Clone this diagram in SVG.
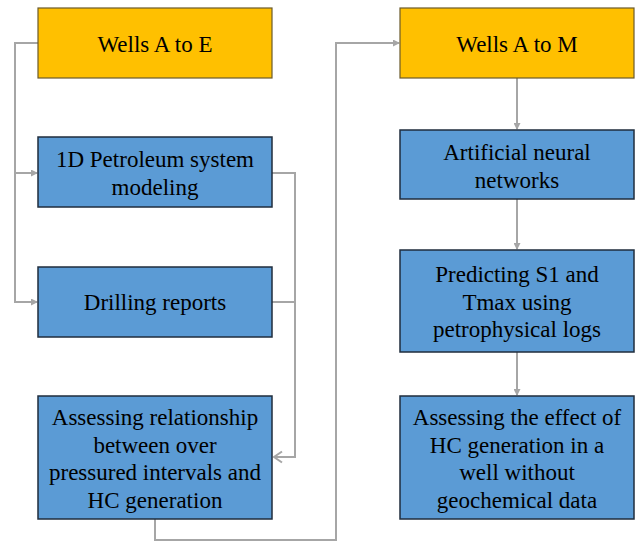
<svg xmlns="http://www.w3.org/2000/svg" width="636" height="542" viewBox="0 0 636 542">
<defs>
<style>
.o{fill:#FFC000;stroke:#6b5a2a;stroke-width:1.2}
.b{fill:#5B9BD5;stroke:#1f2d3d;stroke-width:1.5}
text{font-family:"Liberation Serif","Times New Roman",serif;font-size:23px;fill:#000;text-anchor:middle}
.c{fill:none;stroke:#A6A6A6;stroke-width:2}
</style>
<marker id="a" markerWidth="7" markerHeight="7" refX="6" refY="3.5" orient="auto" markerUnits="userSpaceOnUse">
<path d="M0,0 L7,3.5 L0,7 z" fill="#A6A6A6"/>
</marker>
<marker id="v" markerWidth="12" markerHeight="14" refX="10" refY="7" orient="auto" markerUnits="userSpaceOnUse">
<path d="M2,1.5 L10,7 L2,12.5" fill="none" stroke="#A6A6A6" stroke-width="2"/>
</marker>
</defs>
<g id="connectors">
<path class="c" d="M38,43 H15 V302 H37" marker-end="url(#a)"/>
<path class="c" d="M15,173 H37" marker-end="url(#a)"/>
<path class="c" d="M272,173 H295 V457 H274" marker-end="url(#v)"/>
<path class="c" d="M272,302 H295"/>
<path class="c" d="M155,519 V540 H336 V43 H399" marker-end="url(#a)"/>
<path class="c" d="M517,78 V129" marker-end="url(#a)"/>
<path class="c" d="M517,199 V249" marker-end="url(#a)"/>
<path class="c" d="M517,352 V395" marker-end="url(#a)"/>
</g>
<g id="wellsAE"><rect class="o" x="38" y="8" width="234" height="70"/><text x="155" y="52">Wells A to E</text></g>
<g id="petroleum"><rect class="b" x="38" y="137" width="234" height="70"/><text x="155" y="167">1D Petroleum system</text><text x="155" y="195">modeling</text></g>
<g id="drilling"><rect class="b" x="38" y="267" width="234" height="70"/><text x="155" y="310">Drilling reports</text></g>
<g id="assessRel"><rect class="b" x="38" y="396" width="234" height="123"/><text x="155" y="425">Assessing relationship</text><text x="155" y="453">between over</text><text x="155" y="480">pressured intervals and</text><text x="155" y="508">HC generation</text></g>
<g id="wellsAM"><rect class="o" x="400" y="8" width="234" height="70"/><text x="517" y="52">Wells A to M</text></g>
<g id="ann"><rect class="b" x="400" y="130" width="234" height="69"/><text x="517" y="160">Artificial neural</text><text x="517" y="188">networks</text></g>
<g id="predict"><rect class="b" x="400" y="250" width="234" height="102"/><text x="517" y="282">Predicting S1 and</text><text x="517" y="310">Tmax using</text><text x="517" y="337">petrophysical logs</text></g>
<g id="assessEff"><rect class="b" x="400" y="396" width="234" height="123"/><text x="517" y="425">Assessing the effect of</text><text x="517" y="453">HC generation in a</text><text x="517" y="480">well without</text><text x="517" y="508">geochemical data</text></g>
</svg>
